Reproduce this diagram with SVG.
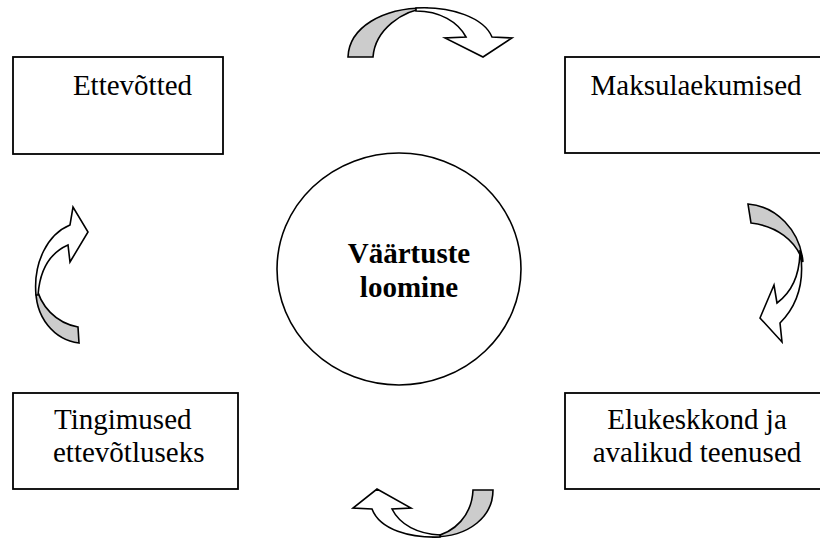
<svg xmlns="http://www.w3.org/2000/svg" width="820" height="539" viewBox="0 0 820 539">
<style>
.box{fill:#fff;stroke:#000;stroke-width:1.8}
.lbl{font-family:"Liberation Serif","Times New Roman",serif;font-size:29px;fill:#000}
.ctr{font-family:"Liberation Serif","Times New Roman",serif;font-size:29px;font-weight:bold;fill:#000;text-anchor:middle}
.back{fill:#cccccc;stroke:#000;stroke-width:1.6;stroke-linejoin:miter}
.front{fill:#fff;stroke:#000;stroke-width:1.6;stroke-linejoin:miter}
</style>
<rect width="820" height="539" fill="#fff"/>
<g id="center">
<ellipse cx="399" cy="269" rx="122" ry="116" fill="#fff" stroke="#000" stroke-width="1.6"/>
<text class="ctr" x="409" y="263">Väärtuste</text>
<text class="ctr" x="409" y="297">loomine</text>
</g>
<g id="ettevotted">
<rect class="box" x="13" y="57" width="210" height="97"/>
<text class="lbl" x="132.5" y="95" text-anchor="middle">Ettevõtted</text>
</g>
<g id="maksulaekumised">
<rect class="box" x="565" y="57" width="262" height="96"/>
<text class="lbl" x="696" y="95" text-anchor="middle">Maksulaekumised</text>
</g>
<g id="tingimused">
<rect class="box" x="13" y="393" width="225" height="96"/>
<text class="lbl" x="54" y="429">Tingimused</text>
<text class="lbl" x="53" y="462">ettevõtluseks</text>
</g>
<g id="elukeskkond">
<rect class="box" x="565" y="393" width="262" height="96"/>
<text class="lbl" x="697" y="429" text-anchor="middle">Elukeskkond ja</text>
<text class="lbl" x="697" y="462" text-anchor="middle">avalikud teenused</text>
</g>
<g id="connectors">
<g id="arrow-top">
<path class="back" d="M348,57 C349,28 382,7 428,8 C402,10 375,30 373,57 Z"/>
<path class="front" d="M416,8 C452,6 484,18 492,37 L512,38 L483,57 L445,38 L466,37 C458,22 440,11 416,11 Z"/>
</g>
<g id="arrow-right">
<path class="back" d="M748,204 C776,206 800,230 803,262 C796,240 776,226 751,223 Z"/>
<path class="front" d="M800,250 C805,280 798,305 780,323 L782,342 L760,318 L774,285 L777,303 C792,292 800,275 800,250 Z"/>
</g>
<g id="arrow-bottom">
<path class="back" d="M493,490 C493,516 470,537 432,537 C455,533 472,515 473,490 Z"/>
<path class="front" d="M440,537 C410,538 380,530 372,509 L353,508 L377,489 L411,508 L392,509 C400,525 418,534 440,535 Z"/>
</g>
<g id="arrow-left">
<path class="back" d="M79,343 C55,340 34,318 36,285 C40,306 56,323 78,327 Z"/>
<path class="front" d="M36,295 C33,262 48,234 70,225 L73,207 L88,232 L70,262 L68,245 C52,252 40,268 38,295 Z"/>
</g>
</g>
</svg>
